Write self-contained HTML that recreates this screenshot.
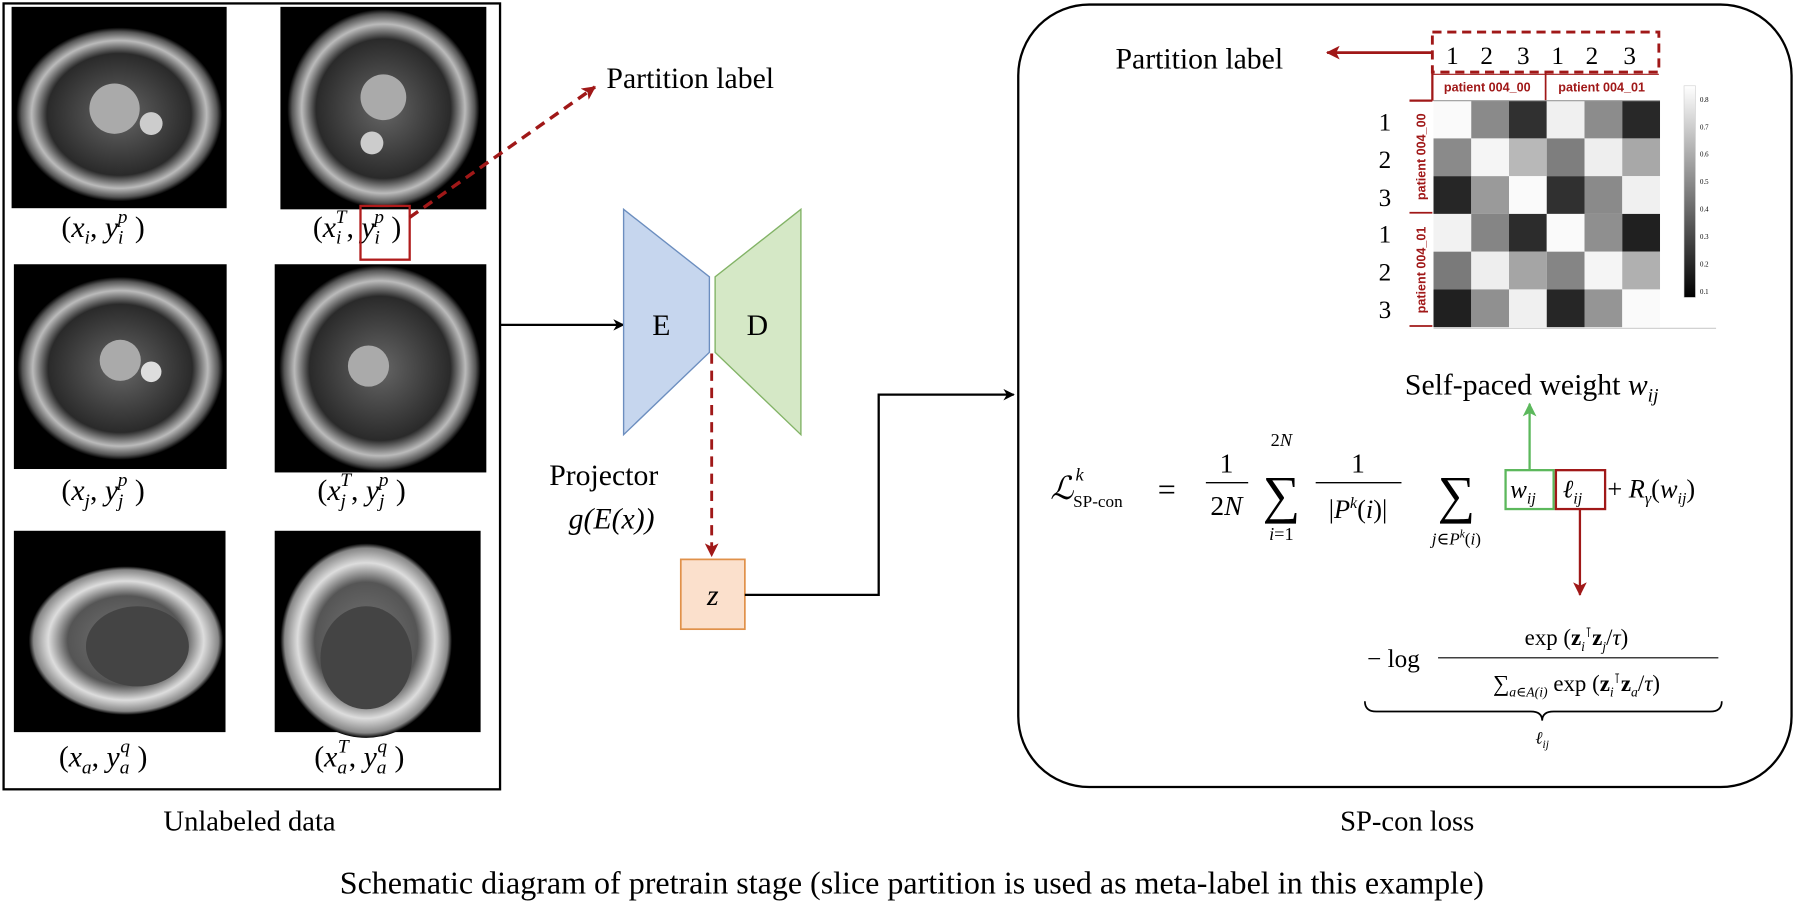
<!DOCTYPE html>
<html><head><meta charset="utf-8"><style>
html,body{margin:0;padding:0;background:#fff}
svg{display:block;font-family:"Liberation Serif","DejaVu Serif",serif}
svg text{font-family:"Liberation Serif","DejaVu Serif",serif;fill:#000}
svg .it{font-style:italic}
svg text.hm{font-family:"Liberation Sans",sans-serif;font-weight:bold;fill:#a01818}
</style></head><body>
<svg width="1794" height="906" viewBox="0 0 1568 792" xmlns="http://www.w3.org/2000/svg" font-family="Liberation Serif, serif">
<defs>
<marker id="ab" markerWidth="10" markerHeight="10" refX="9" refY="5" orient="auto" markerUnits="userSpaceOnUse"><path d="M0,0 L10,5 L0,10 L3,5 z" fill="#000"/></marker>
<marker id="ar" markerWidth="12" markerHeight="12" refX="11" refY="6" orient="auto" markerUnits="userSpaceOnUse"><path d="M0,0 L12,6 L0,12 L3,6 z" fill="#a01818"/></marker>
<marker id="ag" markerWidth="12" markerHeight="12" refX="11" refY="6" orient="auto" markerUnits="userSpaceOnUse"><path d="M0,0 L12,6 L0,12 L3,6 z" fill="#5cb85c"/></marker>
<linearGradient id="cb" x1="0" y1="0" x2="0" y2="1"><stop offset="0" stop-color="#fff"/><stop offset="1" stop-color="#000"/></linearGradient>
<radialGradient id="mri" cx="0.5" cy="0.5" r="0.5"><stop offset="0" stop-color="#666"/><stop offset="0.7" stop-color="#2a2a2a"/><stop offset="0.85" stop-color="#bbb"/><stop offset="0.95" stop-color="#555"/><stop offset="1" stop-color="#000"/></radialGradient>
<radialGradient id="mri2" cx="0.5" cy="0.5" r="0.5"><stop offset="0" stop-color="#777"/><stop offset="0.6" stop-color="#555"/><stop offset="0.8" stop-color="#ddd"/><stop offset="0.95" stop-color="#888"/><stop offset="1" stop-color="#000"/></radialGradient>
</defs>

<rect x="3" y="3" width="434" height="687" fill="#fff" stroke="#000" stroke-width="2"/>
<g>
<rect x="10" y="6" width="188" height="176" fill="#000"/>
<ellipse cx="104" cy="100" rx="90" ry="76" fill="url(#mri)"/>
<circle cx="100" cy="95" r="22" fill="#aaa"/><circle cx="132" cy="108" r="10" fill="#ccc"/>
<rect x="245" y="6" width="180" height="177" fill="#000"/>
<ellipse cx="335" cy="95" rx="84" ry="87" fill="url(#mri)"/>
<circle cx="335" cy="85" r="20" fill="#aaa"/><circle cx="325" cy="125" r="10" fill="#ccc"/>
<rect x="12" y="231" width="186" height="179" fill="#000"/>
<ellipse cx="105" cy="322" rx="90" ry="80" fill="url(#mri)"/>
<circle cx="105" cy="315" r="18" fill="#aaa"/><circle cx="132" cy="325" r="9" fill="#ddd"/>
<rect x="240" y="231" width="185" height="182" fill="#000"/>
<ellipse cx="332" cy="322" rx="88" ry="90" fill="url(#mri)"/>
<circle cx="322" cy="320" r="18" fill="#aaa"/>
<rect x="12" y="464" width="185" height="176" fill="#000"/>
<ellipse cx="110" cy="560" rx="85" ry="65" fill="url(#mri2)"/>
<ellipse cx="120" cy="565" rx="45" ry="35" fill="#444"/>
<rect x="240" y="464" width="180" height="176" fill="#000"/>
<ellipse cx="320" cy="560" rx="75" ry="85" fill="url(#mri2)"/>
<ellipse cx="320" cy="575" rx="40" ry="45" fill="#444"/>
</g>
<text x="90" y="207" font-size="26" text-anchor="middle">(<tspan class="it">x<tspan font-size="17" dy="6">i</tspan></tspan><tspan dy="-6">, </tspan><tspan class="it">y<tspan font-size="17" dy="6">i</tspan><tspan font-size="17" dx="-5" dy="-18">p</tspan></tspan><tspan dy="12"> )</tspan></text>
<text x="312" y="207" font-size="26" text-anchor="middle">(<tspan class="it">x<tspan font-size="17" dy="6">i</tspan><tspan font-size="17" dx="-5" dy="-18">T</tspan></tspan><tspan dy="12">, </tspan><tspan class="it">y<tspan font-size="17" dy="6">i</tspan><tspan font-size="17" dx="-5" dy="-18">p</tspan></tspan><tspan dy="12"> )</tspan></text>
<rect x="315" y="180" width="43" height="47" fill="none" stroke="#b01c1c" stroke-width="2"/>
<text x="90" y="437" font-size="26" text-anchor="middle">(<tspan class="it">x<tspan font-size="17" dy="6">j</tspan></tspan><tspan dy="-6">, </tspan><tspan class="it">y<tspan font-size="17" dy="6">j</tspan><tspan font-size="17" dx="-5" dy="-18">p</tspan></tspan><tspan dy="12"> )</tspan></text>
<text x="316" y="437" font-size="26" text-anchor="middle">(<tspan class="it">x<tspan font-size="17" dy="6">j</tspan><tspan font-size="17" dx="-5" dy="-18">T</tspan></tspan><tspan dy="12">, </tspan><tspan class="it">y<tspan font-size="17" dy="6">j</tspan><tspan font-size="17" dx="-5" dy="-18">p</tspan></tspan><tspan dy="12"> )</tspan></text>
<text x="90" y="670" font-size="26" text-anchor="middle">(<tspan class="it">x<tspan font-size="17" dy="6">a</tspan></tspan><tspan dy="-6">, </tspan><tspan class="it">y<tspan font-size="17" dy="6">a</tspan><tspan font-size="17" dx="-8" dy="-18">q</tspan></tspan><tspan dy="12"> )</tspan></text>
<text x="314" y="670" font-size="26" text-anchor="middle">(<tspan class="it">x<tspan font-size="17" dy="6">a</tspan><tspan font-size="17" dx="-8" dy="-18">T</tspan></tspan><tspan dy="12">, </tspan><tspan class="it">y<tspan font-size="17" dy="6">a</tspan><tspan font-size="17" dx="-8" dy="-18">q</tspan></tspan><tspan dy="12"> )</tspan></text>
<text x="218" y="726" font-size="25" text-anchor="middle">Unlabeled data</text>

<line x1="358" y1="190" x2="520" y2="76" stroke="#a01818" stroke-width="3" stroke-dasharray="9,6" marker-end="url(#ar)"/>
<text x="530" y="77" font-size="26">Partition label</text>

<line x1="437" y1="284" x2="545" y2="284" stroke="#000" stroke-width="2" marker-end="url(#ab)"/>
<polygon points="545,183 620,242 620,308 545,380" fill="#c6d6ee" stroke="#6c8ebf" stroke-width="1.2"/>
<polygon points="700,183 625,242 625,308 700,380" fill="#d5e8c6" stroke="#82b366" stroke-width="1.2"/>
<text x="578" y="293" font-size="26" text-anchor="middle">E</text>
<text x="662" y="293" font-size="26" text-anchor="middle">D</text>
<line x1="622" y1="309" x2="622" y2="486" stroke="#a01818" stroke-width="2.5" stroke-dasharray="9,6" marker-end="url(#ar)"/>
<text x="480" y="424" font-size="26">Projector</text>
<text x="497" y="462" font-size="26" class="it">g(E(x))</text>
<rect x="595" y="489" width="56" height="61" fill="#fbe0cc" stroke="#e0914a" stroke-width="1.5"/>
<text x="623" y="529" font-size="26" class="it" text-anchor="middle">z</text>
<polyline points="651,520 768,520 768,345 886,345" fill="none" stroke="#000" stroke-width="2" marker-end="url(#ab)"/>

<rect x="890" y="4" width="676" height="684" rx="62" ry="62" fill="none" stroke="#000" stroke-width="2"/>
<text x="1230" y="726" font-size="25" text-anchor="middle">SP-con loss</text>
<text x="975" y="60" font-size="26">Partition label</text>
<line x1="1252" y1="46" x2="1160" y2="46" stroke="#a01818" stroke-width="2.5" marker-end="url(#ar)"/>
<rect x="1252" y="28" width="198" height="35" fill="none" stroke="#a01818" stroke-width="2.5" stroke-dasharray="8,5"/>
<g font-size="22">
<text x="1264" y="56">1</text><text x="1294" y="56">2</text><text x="1326" y="56">3</text>
<text x="1356" y="56">1</text><text x="1386" y="56">2</text><text x="1419" y="56">3</text>
<text x="1205" y="114">1</text><text x="1205" y="147">2</text><text x="1205" y="180">3</text>
<text x="1205" y="212">1</text><text x="1205" y="245">2</text><text x="1205" y="278">3</text>
</g>
<line x1="1252" y1="64" x2="1252" y2="88" stroke="#a01818" stroke-width="2"/>
<line x1="1351" y1="64" x2="1351" y2="88" stroke="#a01818" stroke-width="1.5"/>
<line x1="1252" y1="65" x2="1450" y2="65" stroke="#a01818" stroke-width="1"/>
<line x1="1232" y1="88" x2="1252" y2="88" stroke="#a01818" stroke-width="2"/>
<line x1="1232" y1="186" x2="1252" y2="186" stroke="#a01818" stroke-width="1.5"/>
<line x1="1232" y1="285" x2="1252" y2="285" stroke="#a01818" stroke-width="1.5"/>
<text x="1300" y="80" font-size="11" class="hm" text-anchor="middle">patient 004_00</text>
<text x="1400" y="80" font-size="11" class="hm" text-anchor="middle">patient 004_01</text>
<text transform="translate(1246,137) rotate(-90)" font-size="11" class="hm" text-anchor="middle">patient 004_00</text>
<text transform="translate(1246,236) rotate(-90)" font-size="11" class="hm" text-anchor="middle">patient 004_01</text>
<g>
<rect x="1253" y="88" width="33" height="33" fill="#fafafa"/><rect x="1286" y="88" width="33" height="33" fill="#8a8a8a"/><rect x="1319" y="88" width="33" height="33" fill="#303030"/><rect x="1352" y="88" width="33" height="33" fill="#f0f0f0"/><rect x="1385" y="88" width="33" height="33" fill="#8c8c8c"/><rect x="1418" y="88" width="33" height="33" fill="#282828"/>
<rect x="1253" y="121" width="33" height="33" fill="#8a8a8a"/><rect x="1286" y="121" width="33" height="33" fill="#f5f5f5"/><rect x="1319" y="121" width="33" height="33" fill="#b8b8b8"/><rect x="1352" y="121" width="33" height="33" fill="#7e7e7e"/><rect x="1385" y="121" width="33" height="33" fill="#eeeeee"/><rect x="1418" y="121" width="33" height="33" fill="#a8a8a8"/>
<rect x="1253" y="154" width="33" height="33" fill="#262626"/><rect x="1286" y="154" width="33" height="33" fill="#9a9a9a"/><rect x="1319" y="154" width="33" height="33" fill="#fafafa"/><rect x="1352" y="154" width="33" height="33" fill="#303030"/><rect x="1385" y="154" width="33" height="33" fill="#8a8a8a"/><rect x="1418" y="154" width="33" height="33" fill="#f0f0f0"/>
<rect x="1253" y="187" width="33" height="33" fill="#f2f2f2"/><rect x="1286" y="187" width="33" height="33" fill="#858585"/><rect x="1319" y="187" width="33" height="33" fill="#2c2c2c"/><rect x="1352" y="187" width="33" height="33" fill="#fafafa"/><rect x="1385" y="187" width="33" height="33" fill="#8f8f8f"/><rect x="1418" y="187" width="33" height="33" fill="#202020"/>
<rect x="1253" y="220" width="33" height="33" fill="#7a7a7a"/><rect x="1286" y="220" width="33" height="33" fill="#eeeeee"/><rect x="1319" y="220" width="33" height="33" fill="#a5a5a5"/><rect x="1352" y="220" width="33" height="33" fill="#858585"/><rect x="1385" y="220" width="33" height="33" fill="#f5f5f5"/><rect x="1418" y="220" width="33" height="33" fill="#b0b0b0"/>
<rect x="1253" y="253" width="33" height="33" fill="#202020"/><rect x="1286" y="253" width="33" height="33" fill="#909090"/><rect x="1319" y="253" width="33" height="33" fill="#f0f0f0"/><rect x="1352" y="253" width="33" height="33" fill="#262626"/><rect x="1385" y="253" width="33" height="33" fill="#959595"/><rect x="1418" y="253" width="33" height="33" fill="#fafafa"/>
</g>
<line x1="1253" y1="88" x2="1451" y2="88" stroke="#999" stroke-width="1"/>
<line x1="1253" y1="287" x2="1500" y2="287" stroke="#ccc" stroke-width="1"/>
<rect x="1472" y="75" width="10" height="185" fill="url(#cb)" stroke="#ccc" stroke-width="0.5"/>
<g font-size="6" fill="#444">
<text x="1486" y="89">0.8</text><text x="1486" y="113">0.7</text><text x="1486" y="137">0.6</text><text x="1486" y="161">0.5</text><text x="1486" y="185">0.4</text><text x="1486" y="209">0.3</text><text x="1486" y="233">0.2</text><text x="1486" y="257">0.1</text>
</g>

<text x="1228" y="345" font-size="26">Self-paced weight <tspan class="it">w<tspan font-size="17" dy="6">ij</tspan></tspan></text>
<line x1="1337" y1="411" x2="1337" y2="353" stroke="#5cb85c" stroke-width="2" marker-end="url(#ag)"/>
<line x1="1381" y1="445" x2="1381" y2="520" stroke="#a01818" stroke-width="2" marker-end="url(#ar)"/>

<text x="918" y="436" font-size="28" class="it">ℒ</text>
<text x="940" y="420" font-size="16" class="it">k</text>
<text x="938" y="443" font-size="15">SP-con</text>
<text x="1012" y="437" font-size="28">=</text>
<text x="1072" y="413" font-size="24" text-anchor="middle">1</text>
<line x1="1054" y1="422" x2="1091" y2="422" stroke="#000" stroke-width="1.2"/>
<text x="1072" y="450" font-size="24" text-anchor="middle">2<tspan class="it">N</tspan></text>
<text x="1120" y="448" font-size="46" text-anchor="middle">∑</text>
<text x="1120" y="390" font-size="16" text-anchor="middle">2<tspan class="it">N</tspan></text>
<text x="1120" y="472" font-size="16" text-anchor="middle"><tspan class="it">i</tspan>=1</text>
<text x="1187" y="413" font-size="24" text-anchor="middle">1</text>
<line x1="1150" y1="422" x2="1225" y2="422" stroke="#000" stroke-width="1.2"/>
<text x="1187" y="453" font-size="23" text-anchor="middle">|<tspan class="it">P</tspan><tspan font-size="14" dy="-9" class="it">k</tspan><tspan dy="9">(</tspan><tspan class="it">i</tspan>)|</text>
<text x="1273" y="448" font-size="46" text-anchor="middle">∑</text>
<text x="1273" y="476" font-size="15" text-anchor="middle"><tspan class="it">j</tspan>∈<tspan class="it">P</tspan><tspan font-size="10" dy="-6" class="it">k</tspan><tspan dy="6">(</tspan><tspan class="it">i</tspan>)</text>
<rect x="1316" y="411" width="42" height="34" fill="none" stroke="#5cb85c" stroke-width="2"/>
<rect x="1360" y="411" width="43" height="34" fill="none" stroke="#a01818" stroke-width="2"/>
<text x="1320" y="435" font-size="22" class="it">w<tspan font-size="14" dy="5">ij</tspan></text>
<text x="1366" y="435" font-size="22" class="it">ℓ<tspan font-size="14" dy="5">ij</tspan></text>
<text x="1405" y="435" font-size="23">+ <tspan class="it">R</tspan><tspan font-size="14" dy="5" class="it">γ</tspan><tspan dy="-5">(</tspan><tspan class="it">w</tspan><tspan font-size="14" dy="5" class="it">ij</tspan><tspan dy="-5">)</tspan></text>

<text x="1195" y="583" font-size="22">− log</text>
<line x1="1257" y1="575" x2="1502" y2="575" stroke="#000" stroke-width="1"/>
<text x="1378" y="564" font-size="20" text-anchor="middle">exp (<tspan font-weight="bold">z</tspan><tspan font-size="12" dy="5" class="it">i</tspan><tspan font-size="12" dy="-12">⊺</tspan><tspan dy="7" font-weight="bold">z</tspan><tspan font-size="12" dy="5" class="it">j</tspan><tspan dy="-5">/</tspan><tspan class="it">τ</tspan>)</text>
<text x="1378" y="604" font-size="20" text-anchor="middle">∑<tspan font-size="12" dy="5" class="it">a</tspan><tspan font-size="12">∈</tspan><tspan font-size="12" class="it">A(i)</tspan><tspan dy="-5"> exp (</tspan><tspan font-weight="bold">z</tspan><tspan font-size="12" dy="5" class="it">i</tspan><tspan font-size="12" dy="-12">⊺</tspan><tspan dy="7" font-weight="bold">z</tspan><tspan font-size="12" dy="5" class="it">a</tspan><tspan dy="-5">/</tspan><tspan class="it">τ</tspan>)</text>
<path d="M1193,613 Q1193,622 1203,622 L1338,622 Q1348,622 1348,630 Q1348,622 1358,622 L1495,622 Q1505,622 1505,613" fill="none" stroke="#000" stroke-width="1.5"/>
<text x="1348" y="650" font-size="15" class="it" text-anchor="middle">ℓ<tspan font-size="10" dy="4">ij</tspan></text>

<text x="797" y="781" font-size="28" text-anchor="middle">Schematic diagram of pretrain stage (slice partition is used as meta-label in this example)</text>
</svg>
</body></html>
